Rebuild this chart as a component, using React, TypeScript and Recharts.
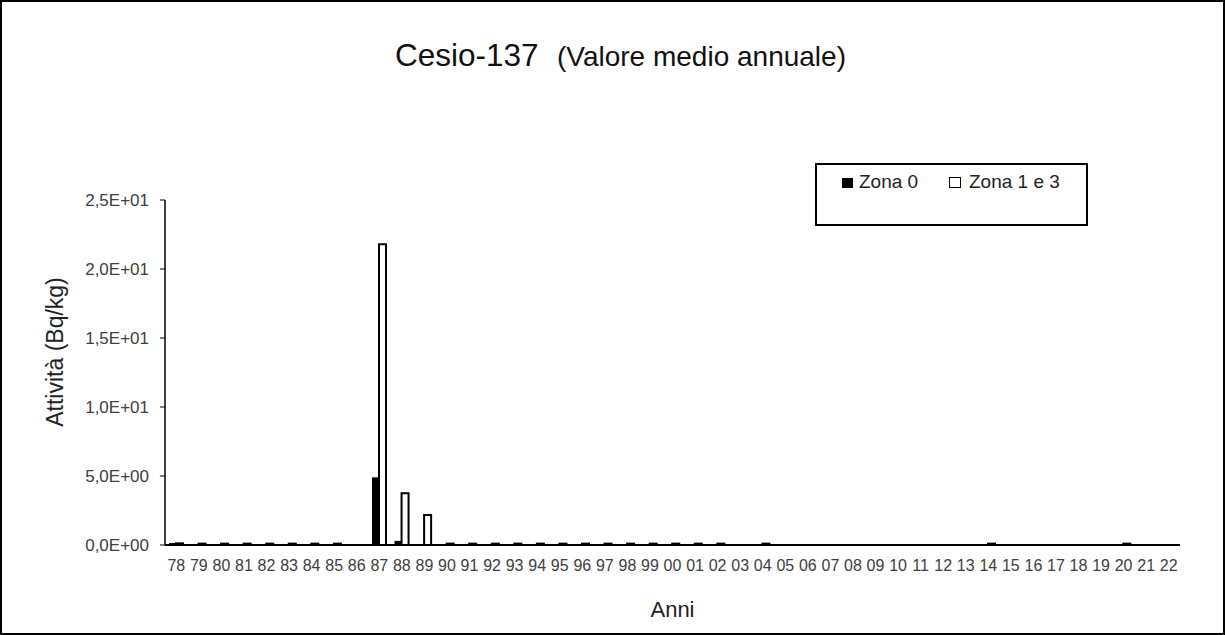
import { BarChart, Bar, XAxis, YAxis, Legend } from "recharts";

const years = [
  "78", "79", "80", "81", "82", "83", "84", "85", "86", "87", "88", "89",
  "90", "91", "92", "93", "94", "95", "96", "97", "98", "99", "00", "01",
  "02", "03", "04", "05", "06", "07", "08", "09", "10", "11", "12", "13",
  "14", "15", "16", "17", "18", "19", "20", "21", "22",
];

// Zona 0 (black bars)
const zona0 = [
  0.15, null, null, null, null, null, null, null, null, 4.9, 0.3, null,
  null, null, null, null, null, null, null, null, null, null, null, null,
  null, null, null, null, null, null, null, null, null, null, null, null,
  null, null, null, null, null, null, null, null, null,
];

// Zona 1 e 3 (white bars)
const zona13 = [
  0.12, 0.1, 0.1, 0.1, 0.1, 0.1, 0.1, 0.1, null, 21.8, 3.75, 2.17,
  0.1, 0.1, 0.1, 0.1, 0.1, 0.1, 0.1, 0.1, 0.1, 0.1, 0.1, 0.1,
  0.1, null, 0.1, null, null, null, null, null, null, null, null, null,
  0.1, null, null, null, null, null, 0.1, null, null,
];

const yTicks = [0, 5, 10, 15, 20, 25];

const data = years.map((y, i) => ({ anno: y, zona0: zona0[i], zona13: zona13[i] }));

const FONT = "'Liberation Sans', Arial, sans-serif";

function fmtSci(v: number): string {
  const [m, e] = v.toExponential(1).split("e");
  const n = parseInt(e, 10);
  const sign = n < 0 ? "-" : "+";
  return `${m.replace(".", ",")}E${sign}${String(Math.abs(n)).padStart(2, "0")}`;
}

function LegendBox() {
  return (
    <div
      style={{
        position: "relative",
        width: 273,
        height: 63,
        boxSizing: "border-box",
        border: "2px solid #000",
        fontFamily: FONT,
        fontSize: 19,
        color: "#222",
      }}
    >
      <span style={{ position: "absolute", left: 25, top: 13, width: 11, height: 10, background: "#000" }} />
      <span style={{ position: "absolute", left: 42, top: 6, lineHeight: "22px" }}>Zona 0</span>
      <span
        style={{
          position: "absolute",
          left: 132,
          top: 12,
          width: 10,
          height: 9,
          background: "#fff",
          border: "1.5px solid #000",
        }}
      />
      <span style={{ position: "absolute", left: 152, top: 6, lineHeight: "22px" }}>Zona 1 e 3</span>
    </div>
  );
}

export default function App() {
  return (
    <div
      style={{
        position: "absolute",
        left: 0,
        top: 0,
        width: 1225,
        height: 635,
        boxSizing: "border-box",
        border: "2px solid #000",
        background: "#fff",
        fontFamily: FONT,
      }}
    >
      <svg width={1225} height={100} style={{ position: "absolute", left: -2, top: -2 }}>
        <text x={395} y={66} fill="#111" fontFamily={FONT}>
          <tspan fontSize={31.5}>Cesio-137</tspan>
          <tspan x={557} fontSize={28}>(Valore medio annuale)</tspan>
        </text>
      </svg>
      <div style={{ position: "absolute", left: -2, top: -2 }}>
        <BarChart
          width={1225}
          height={635}
          data={data}
          margin={{ top: 200, right: 45, bottom: 60, left: 20 }}
          barGap={0}
          barCategoryGap={4}
        >
          <XAxis
            dataKey="anno"
            interval={0}
            height={30}
            tickLine={false}
            axisLine={{ stroke: "#000", strokeWidth: 2 }}
            tick={{ fill: "#404040", fontSize: 16, fontFamily: FONT }}
            tickMargin={9}
            label={{ value: "Anni", position: "bottom", offset: 26, fill: "#222", fontSize: 22, fontFamily: FONT }}
          />
          <YAxis
            width={145}
            domain={[0, 25]}
            ticks={yTicks}
            tickFormatter={fmtSci}
            axisLine={{ stroke: "#000", strokeWidth: 1.5 }}
            tickLine={{ stroke: "#000" }}
            tickSize={5}
            tickMargin={11}
            tick={{ fill: "#404040", fontSize: 17, fontFamily: FONT }}
            label={{
              content: () => (
                <text
                  x={55}
                  y={352}
                  transform="rotate(-90 55 352)"
                  textAnchor="middle"
                  dominantBaseline="central"
                  fill="#222"
                  fontSize={23}
                  fontFamily={FONT}
                >
                  Attività (Bq/kg)
                </text>
              ),
            }}
          />
          <Legend
            layout="horizontal"
            verticalAlign="middle"
            align="center"
            wrapperStyle={{ left: 815, top: 163, width: 273, height: 63 }}
            content={() => <LegendBox />}
          />
          <Bar dataKey="zona0" name="Zona 0" fill="#000" barSize={7} isAnimationActive={false} />
          <Bar
            dataKey="zona13"
            name="Zona 1 e 3"
            fill="#fff"
            stroke="#000"
            strokeWidth={2}
            barSize={7}
            isAnimationActive={false}
          />
        </BarChart>
      </div>
    </div>
  );
}
